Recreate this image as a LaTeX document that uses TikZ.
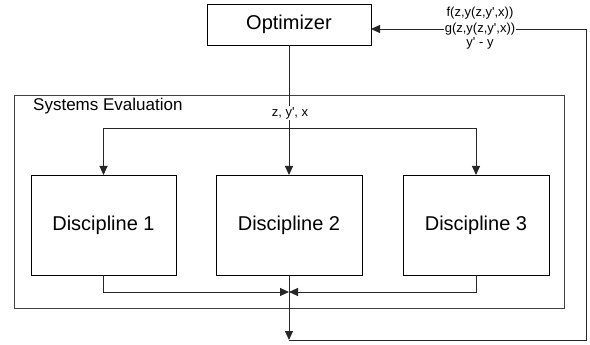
\documentclass[tikz,border=0pt]{standalone}
\usepackage{fontspec}
\setmainfont{Liberation Sans}
\usetikzlibrary{arrows.meta}
\begin{document}
\begin{tikzpicture}[x=1pt,y=-1pt,
  box/.style={draw=black, line width=0.9pt, inner sep=0pt, outer sep=0pt},
  conn/.style={draw=black!85, line width=0.9pt},
  arr/.style={conn, -{Triangle[length=9pt,width=8pt]}},
  lbl/.style={font=\fontsize{13}{15}\selectfont, inner sep=1pt},
  big/.style={font=\fontsize{20}{24}\selectfont}]
\useasboundingbox (0,0) rectangle (590,345);
\node[box, big, minimum width=164pt, minimum height=41pt] (opt) at (289,24.5) {Optimizer};
\node[box, draw=black!75, minimum width=550pt, minimum height=213pt] (sys) at (289,201.5) {};
\node[box, big, minimum width=145pt, minimum height=100pt] (d1) at (103.5,225) {Discipline 1};
\node[box, big, minimum width=146pt, minimum height=100pt] (d2) at (289,225) {Discipline 2};
\node[box, big, minimum width=146pt, minimum height=100pt] (d3) at (476,225) {Discipline 3};
\node[font=\fontsize{17}{20}\selectfont, anchor=west, inner sep=0pt] (se) at (33,106) {Systems Evaluation};
\coordinate (top) at (289,128);
\coordinate (col) at (289,292);
\coordinate (bot) at (289,340);
\coordinate (fb) at (586,340);
\draw[arr] (opt.south) -- (d2.north);
\draw[conn] (d1.north |- top) -- (d3.north |- top);
\draw[arr] (d1.north |- top) -- (d1.north);
\draw[arr] (d3.north |- top) -- (d3.north);
\draw[arr] (d1.south) |- (col);
\draw[arr] (d3.south) |- (col);
\draw[arr] (d2.south) -- (bot);
\draw[arr] (bot) -- (fb) |- ([yshift=-4.5pt]opt.east);
\node[lbl] (f) at (480,12.7) {f(z,y(z,y\textquotesingle,x))};
\node[lbl, fill=white] (g) at (480,29) {g(z,y(z,y\textquotesingle,x))};
\node[lbl] (dy) at (480,43) {y\textquotesingle{} - y};
\node[lbl, fill=white] (zyx) at (290,113) {z, y\textquotesingle, x};
\end{tikzpicture}
\end{document}
